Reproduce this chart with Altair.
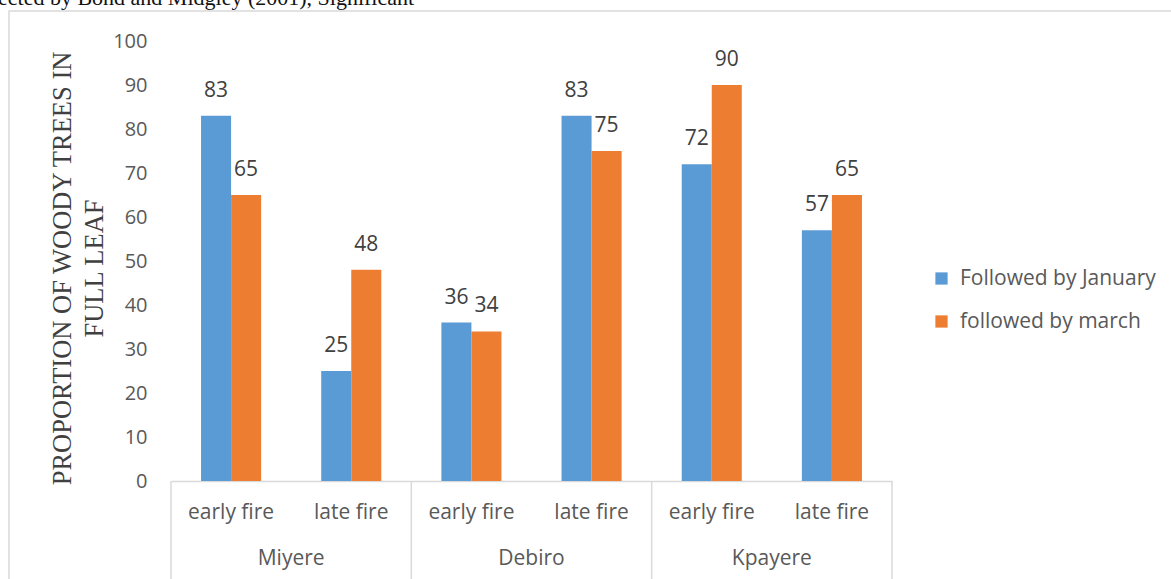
import altair as alt
import pandas as pd

# ---- data ----
sites = ["Miyere", "Debiro", "Kpayere"]
fire_types = ["early fire", "late fire"]
series_names = ["Followed by January", "followed by march"]
january = [83, 25, 36, 83, 72, 57]
march = [65, 48, 34, 75, 90, 65]
y_ticks = [0, 10, 20, 30, 40, 50, 60, 70, 80, 90, 100]
y_title = ["PROPORTION OF WOODY TREES IN", "FULL LEAF"]
caption = "ected by Bond and Midgley (2001), Significant"

BLUE = "#5B9BD5"
ORANGE = "#ED7D31"
GRID = "#D9D9D9"
LABEL = "#595959"
SANS = "Open Sans"
SERIF = "Liberation Serif"

# plot area and surrounding room
W, H = 721, 440
PAD = {"left": 171, "top": 41, "right": 279, "bottom": 98}

rows, cats = [], []
for i, site in enumerate(sites):
    for j, fire in enumerate(fire_types):
        k = i * len(fire_types) + j
        cat = f"{site}|{fire}"
        cats.append(cat)
        rows.append({"cat": cat, "series": series_names[0], "value": january[k]})
        rows.append({"cat": cat, "series": series_names[1], "value": march[k]})
bars_df = pd.DataFrame(rows)

site_df = pd.DataFrame({"site": sites, "pos": [i + 0.5 for i in range(len(sites))]})
bounds_df = pd.DataFrame({"pos": list(range(len(sites) + 1))})
one = pd.DataFrame({"k": [0]})

x_enc = alt.X(
    "cat:N",
    sort=cats,
    scale=alt.Scale(paddingInner=0.5, paddingOuter=0.25),
    axis=alt.Axis(
        title=None,
        labelExpr="split(datum.label, '|')[1]",
        labelFont=SANS,
        labelFontSize=21,
        labelColor=LABEL,
        labelBaseline="middle",
        labelPadding=31,
        labelAngle=0,
        ticks=False,
        tickSize=0,
        domainColor=GRID,
        domainWidth=1.5,
        grid=False,
    ),
)
xoff_enc = alt.XOffset("series:N", sort=series_names,
                       scale=alt.Scale(paddingInner=0, paddingOuter=0))
y_enc = alt.Y(
    "value:Q",
    scale=alt.Scale(domain=[0, 100], nice=False),
    axis=alt.Axis(
        values=y_ticks,
        title=y_title,
        titleFont=SERIF,
        titleFontSize=26.5,
        titleFontWeight="normal",
        titleColor="#404040",
        titleLineHeight=32,
        titleAngle=-90,
        titleAlign="center",
        titleBaseline="alphabetic",
        titleX=-101,
        titleY=227,
        labelFont=SANS,
        labelFontSize=20,
        labelColor=LABEL,
        labelPadding=24,
        ticks=False,
        tickSize=0,
        domain=False,
        grid=False,
    ),
)
color_enc = alt.Color(
    "series:N",
    scale=alt.Scale(domain=series_names, range=[BLUE, ORANGE]),
    legend=alt.Legend(
        title=None,
        orient="none",
        legendX=760,
        legendY=227,
        symbolType="square",
        symbolSize=150,
        symbolStrokeWidth=0,
        labelFont=SANS,
        labelFontSize=21,
        labelColor=LABEL,
        labelOffset=8,
        labelLimit=0,
        rowPadding=21,
    ),
)

# outer chart frame
frame = alt.Chart(one).mark_rect(fillOpacity=0, stroke=GRID, strokeWidth=1.5).encode(
    x=alt.value(-162), x2=alt.value(W + PAD["right"] + 10),
    y=alt.value(-30), y2=alt.value(H + PAD["bottom"] + 10),
)

# running text of the page above the chart
caption_text = alt.Chart(one).mark_text(
    font=SERIF, fontSize=22, align="left", baseline="alphabetic", color="#111111"
).encode(x=alt.value(-173), y=alt.value(-36), text=alt.value(caption))

bars = alt.Chart(bars_df).mark_bar().encode(
    x=x_enc, xOffset=xoff_enc, y=y_enc, color=color_enc
)
values = alt.Chart(bars_df).mark_text(
    font=SANS, fontSize=21, color="#404040", baseline="middle", dy=-25
).encode(x=alt.X("cat:N", sort=cats), xOffset=alt.XOffset("series:N", sort=series_names),
         y="value:Q", text="value:Q")

# second level of the category axis: site names and their dividers
site_x = alt.Scale(domain=[0, len(sites)], nice=False, zero=False)
dividers = alt.Chart(bounds_df).mark_rule(color=GRID, strokeWidth=1.5).encode(
    x=alt.X("pos:Q", scale=site_x, axis=None),
    y=alt.value(H), y2=alt.value(H + PAD["bottom"] + 5),
)
site_labels = alt.Chart(site_df).mark_text(
    font=SANS, fontSize=21, color=LABEL, baseline="middle"
).encode(
    x=alt.X("pos:Q", scale=site_x, axis=None),
    y=alt.value(H + 78),
    text="site:N",
)

bar_layer = alt.layer(bars, values)
site_layer = alt.layer(dividers, site_labels)

chart = (
    alt.layer(frame, caption_text, bar_layer, site_layer)
    .resolve_scale(x="independent")
    .properties(width=W, height=H, padding=PAD, background="white",
                autosize=alt.AutoSizeParams(type="none"))
    .configure_view(stroke=None)
)

chart.save("out.html", embed_options={"renderer": "svg", "actions": False})
